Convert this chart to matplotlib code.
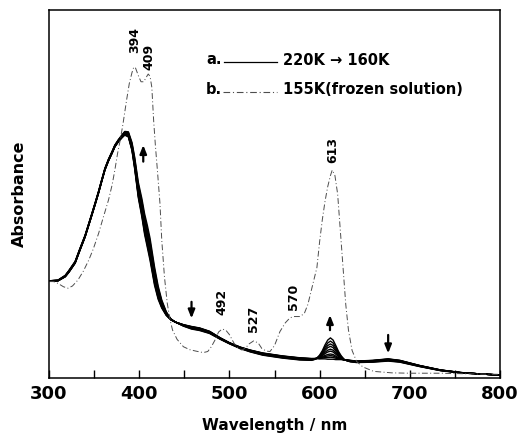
#!/usr/bin/env python3
"""Temperature-dependent absorption spectra, 220K -> 160K and frozen 155K."""

import matplotlib
matplotlib.use("Agg")
import matplotlib.pyplot as plt
import numpy as np

# solid family: shared wavelength grid, the 220K curve and the full 220K->160K change
wl_solid = [300, 310, 318, 322, 329, 334, 340, 347, 351, 355, 358, 362, 366, 370, 373,
            377, 381, 384, 388, 392, 395, 399, 403, 406, 409, 412, 417, 421, 425, 430,
            435, 440, 449, 458, 467, 478, 490, 500, 512, 523, 537, 559, 578, 591, 594,
            597, 600, 603, 606, 609, 612, 615, 618, 621, 624, 627, 630, 634, 641, 659,
            676, 689, 711, 734, 756, 778, 800]
abs_220k = [0.264, 0.264, 0.275, 0.287, 0.312, 0.345, 0.383, 0.438, 0.470, 0.503, 0.530,
            0.565, 0.590, 0.611, 0.628, 0.642, 0.653, 0.660, 0.655, 0.618, 0.568, 0.490,
            0.437, 0.390, 0.355, 0.320, 0.252, 0.214, 0.190, 0.170, 0.158, 0.152, 0.145,
            0.140, 0.136, 0.127, 0.109, 0.096, 0.084, 0.076, 0.068, 0.060, 0.055, 0.053,
            0.053, 0.053, 0.052, 0.052, 0.052, 0.051, 0.051, 0.051, 0.050, 0.050, 0.050,
            0.049, 0.049, 0.048, 0.046, 0.048, 0.052, 0.048, 0.034, 0.022, 0.015, 0.011,
            0.008]
delta_160k = [0.0, 0.002, 0.004, 0.005, 0.005, 0.005, 0.005, 0.005, 0.005, 0.005, 0.005,
              0.005, 0.005, 0.005, 0.005, 0.006, 0.008, 0.010, 0.014, 0.022, 0.032, 0.042,
              0.050, 0.056, 0.060, 0.060, 0.050, 0.036, 0.022, 0.010, 0.003, 0.0, -0.004,
              -0.007, -0.007, -0.006, -0.004, -0.003, -0.004, -0.005, -0.006, -0.006,
              -0.006, -0.005, -0.003, 0.001, 0.010, 0.022, 0.038, 0.052, 0.058, 0.052,
              0.038, 0.022, 0.010, 0.002, -0.002, -0.004, -0.004, -0.005, -0.006, -0.005,
              -0.003, -0.002, -0.001, 0.0, 0.0]
# height of the 613 nm band above baseline for each recorded temperature
band_613_heights = [0.0, 0.005, 0.009, 0.013, 0.020, 0.025, 0.032, 0.038, 0.045, 0.053]

# frozen solution, 155K
wl_155k = [300, 305, 310, 316, 321, 326, 332, 338, 344, 349, 355, 360, 366, 370, 373, 376,
           379, 382, 386, 389, 392, 394, 396, 399, 402, 405, 408, 410, 412, 414, 416, 418,
           420, 423, 425, 428, 431, 434, 437, 442, 449, 456, 463, 471, 476, 480, 484, 488,
           492, 496, 500, 505, 510, 514, 518, 522, 527, 532, 536, 541, 545, 550, 556, 562,
           567, 571, 578, 583, 587, 591, 594, 597, 600, 603, 606, 609, 612, 614, 617, 620,
           623, 626, 629, 632, 636, 641, 648, 660, 680, 700, 734, 770, 800]
abs_155k = [0.262, 0.262, 0.257, 0.248, 0.244, 0.250, 0.266, 0.290, 0.320, 0.350, 0.393,
            0.435, 0.484, 0.525, 0.565, 0.610, 0.647, 0.690, 0.755, 0.800, 0.830, 0.845,
            0.842, 0.822, 0.805, 0.805, 0.818, 0.826, 0.820, 0.790, 0.700, 0.630, 0.570,
            0.475, 0.375, 0.275, 0.205, 0.160, 0.130, 0.105, 0.085, 0.077, 0.073, 0.069,
            0.072, 0.085, 0.103, 0.125, 0.133, 0.130, 0.118, 0.095, 0.080, 0.076, 0.082,
            0.093, 0.101, 0.095, 0.080, 0.073, 0.072, 0.088, 0.126, 0.150, 0.163, 0.167,
            0.167, 0.175, 0.200, 0.240, 0.270, 0.300, 0.370, 0.430, 0.480, 0.520, 0.550,
            0.565, 0.550, 0.500, 0.400, 0.300, 0.200, 0.130, 0.075, 0.045, 0.030, 0.018,
            0.014, 0.013, 0.013, 0.011, 0.010]

peak_labels = ["394", "409", "613", "492", "527", "570"]
peak_label_x = [395, 411, 615, 491.5, 526.5, 571.5]
peak_label_y = [0.918, 0.872, 0.62, 0.207, 0.162, 0.221]

# arrows: x, tail y, head y
arrow_x = [404.5, 458, 611.5, 676]
arrow_tail = [0.588, 0.207, 0.130, 0.117]
arrow_head = [0.633, 0.162, 0.171, 0.067]

DASHDOT = (0, (6, 2.5, 1, 2.5))


def main() -> None:
    fig = plt.figure(figsize=(5.22, 4.34), dpi=100)
    ax = fig.add_axes([49 / 522, 56 / 434, 451 / 522, 368 / 434])

    wl = np.array(wl_solid)
    base = np.array(abs_220k)
    delta = np.array(delta_160k)
    for h in band_613_heights:
        ax.plot(wl, base + delta * (h / band_613_heights[-1]), color="black", lw=1.0)

    ax.plot(wl_155k, abs_155k, color="0.3", lw=0.7, ls=DASHDOT)

    for lab, x, y in zip(peak_labels, peak_label_x, peak_label_y):
        ax.text(x, y, lab, rotation=90, ha="center", va="center",
                fontsize=9, fontweight="bold")

    for x, y0, y1 in zip(arrow_x, arrow_tail, arrow_head):
        ax.annotate("", xy=(x, y1), xytext=(x, y0),
                    arrowprops=dict(arrowstyle="-|>,head_length=0.5,head_width=0.2",
                                    color="black", lw=1.6, shrinkA=0, shrinkB=0))

    # hand-drawn legend
    ax.text(0.350, 0.866, "a.", transform=ax.transAxes, fontsize=10.5,
            fontweight="bold", va="center")
    ax.plot([0.388, 0.5055], [0.8595, 0.8595], transform=ax.transAxes,
            color="black", lw=0.9)
    ax.text(0.519, 0.864, "220K \u2192 160K", transform=ax.transAxes, fontsize=10.5,
            fontweight="bold", va="center")
    ax.text(0.348, 0.785, "b.", transform=ax.transAxes, fontsize=10.5,
            fontweight="bold", va="center")
    ax.plot([0.386, 0.5055], [0.776, 0.776], transform=ax.transAxes,
            color="0.3", lw=0.8, ls=DASHDOT)
    ax.text(0.519, 0.783, "155K(frozen solution)", transform=ax.transAxes,
            fontsize=10.5, fontweight="bold", va="center")

    ax.set_xlim(300, 800)
    ax.set_ylim(0, 1)
    ax.set_xticks(range(300, 801, 100))
    ax.set_xticks(range(350, 800, 100), minor=True)
    ax.set_yticks([])
    ax.tick_params(axis="x", which="both", direction="in", length=6, width=1,
                   top=False, pad=5)
    for lab in ax.get_xticklabels():
        lab.set_fontsize(13)
        lab.set_fontweight("bold")
    for sp in ax.spines.values():
        sp.set_linewidth(1.1)

    ax.set_xlabel("Wavelength / nm", fontsize=11, fontweight="bold", labelpad=11)
    ax.set_ylabel("Absorbance", fontsize=11.5, fontweight="bold", labelpad=16)

    fig.savefig("out.png", dpi=100)
    plt.close(fig)


if __name__ == "__main__":
    main()
